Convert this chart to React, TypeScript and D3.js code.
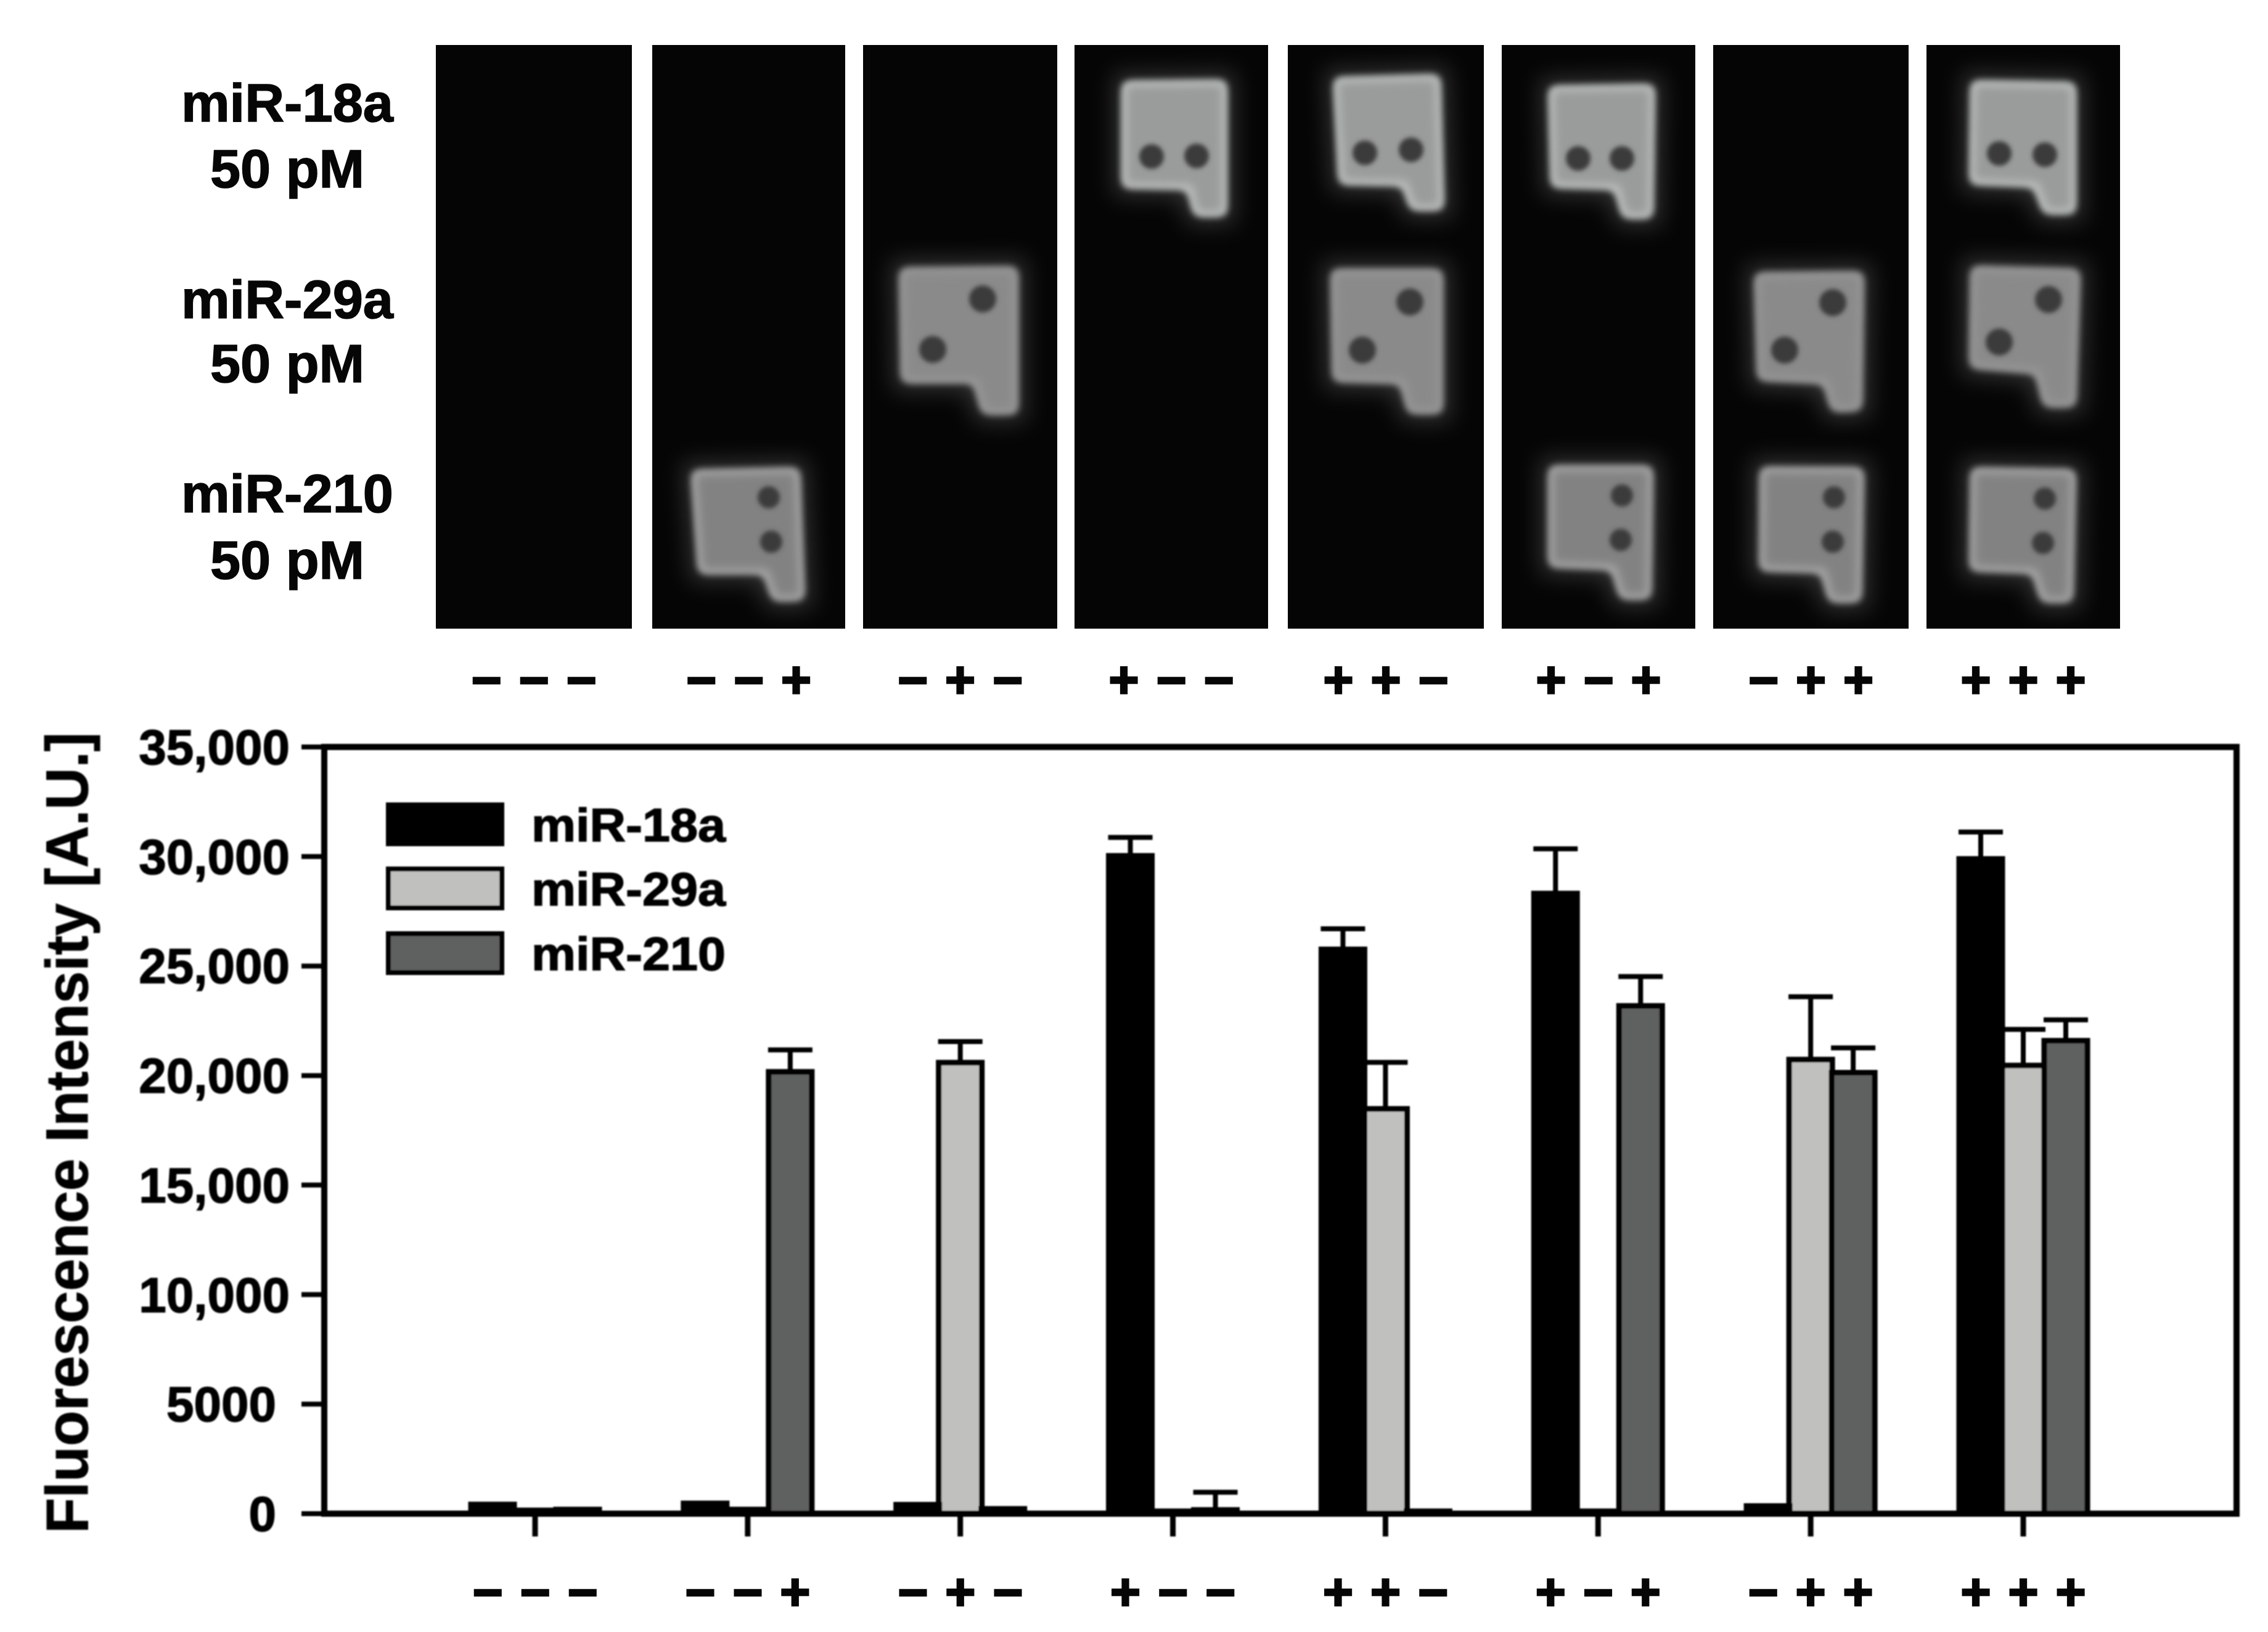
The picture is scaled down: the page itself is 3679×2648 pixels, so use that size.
import React from "react";
import * as d3 from "d3";

// ---------- data ----------
const groups = ["---", "--+", "-+-", "+--", "++-", "+-+", "-++", "+++"];
const seriesNames = ["miR-29a", "miR-210", "miR-18a"]; // draw order
const legendOrder = ["miR-18a", "miR-29a", "miR-210"];
const miR18a = [420, 470, 410, 30030, 25760, 28310, 350, 29890];
const miR18aErr = [null, null, null, 30870, 26700, 30350, null, 31120];
const miR29a = [150, 190, 20590, 110, 18480, 110, 20730, 20460];
const miR29aErr = [null, null, 21550, null, 20600, null, 23600, 22110];
const miR210 = [190, 20170, 220, 170, 110, 23180, 20130, 21590];
const miR210Err = [null, 21170, null, 980, null, 24520, 21260, 22540];
const yTickValues = [0, 5000, 10000, 15000, 20000, 25000, 30000, 35000];
const yTickLabels = ["0", "5000", "10,000", "15,000", "20,000", "25,000", "30,000", "35,000"];
const imageRows = [
  ["miR-18a", "50 pM"],
  ["miR-29a", "50 pM"],
  ["miR-210", "50 pM"],
];

// ---------- fluorescence image panels ----------
const panelLeft = [707, 1058, 1400, 1743, 2089, 2436, 2779, 3125];
const panelRight = [1025, 1371, 1715, 2057, 2407, 2750, 3096, 3439];
type Blob = { panel: number; row: number; outline: number[][]; dots: number[][] };
const blobs: Blob[] = [
  { panel: 1, row: 2, outline: [[1120, 762], [1298, 758], [1306, 975], [1252, 976], [1238, 932], [1132, 932]], dots: [[1247, 807], [1251, 879]] },
  { panel: 2, row: 1, outline: [[1458, 434], [1652, 432], [1652, 673], [1592, 673], [1578, 622], [1461, 622]], dots: [[1594, 485], [1513, 567]] },
  { panel: 3, row: 0, outline: [[1819, 131], [1991, 129], [1991, 352], [1936, 352], [1925, 308], [1819, 306]], dots: [[1868, 254], [1941, 253]] },
  { panel: 4, row: 0, outline: [[2162, 125], [2337, 120], [2343, 342], [2287, 342], [2274, 302], [2171, 300]], dots: [[2214, 248], [2289, 243]] },
  { panel: 4, row: 1, outline: [[2158, 436], [2341, 436], [2341, 672], [2283, 672], [2270, 623], [2161, 620]], dots: [[2287, 490], [2210, 568]] },
  { panel: 5, row: 0, outline: [[2511, 139], [2685, 136], [2682, 355], [2631, 355], [2618, 308], [2515, 305]], dots: [[2560, 257], [2631, 257]] },
  { panel: 5, row: 2, outline: [[2511, 755], [2682, 755], [2679, 973], [2627, 973], [2613, 925], [2511, 921]], dots: [[2631, 804], [2629, 876]] },
  { panel: 6, row: 1, outline: [[2845, 442], [3024, 440], [3021, 667], [2970, 669], [2957, 623], [2850, 618]], dots: [[2973, 491], [2895, 568]] },
  { panel: 6, row: 2, outline: [[2854, 757], [3024, 758], [3020, 978], [2966, 978], [2953, 930], [2853, 927]], dots: [[2975, 807], [2973, 879]] },
  { panel: 7, row: 0, outline: [[3196, 130], [3368, 133], [3368, 348], [3314, 348], [3298, 304], [3194, 300]], dots: [[3243, 249], [3317, 251]] },
  { panel: 7, row: 1, outline: [[3196, 431], [3375, 436], [3368, 661], [3314, 661], [3301, 607], [3194, 598]], dots: [[3323, 486], [3243, 555]] },
  { panel: 7, row: 2, outline: [[3196, 758], [3368, 761], [3363, 978], [3310, 978], [3296, 931], [3194, 927]], dots: [[3317, 809], [3314, 881]] },
];
const rowEdge = ["#c0c2c2", "#989898", "#a8a8a8"];
const rowFill = ["#9a9b9b", "#8a8a8a", "#828282"];
const rowDot = [20, 22, 18];

// ---------- styles ----------
const FONT = "'Liberation Sans', Arial, sans-serif";
const colors: Record<string, string> = { "miR-18a": "#040404", "miR-29a": "#c0c0be", "miR-210": "#5f6160" };
const values: Record<string, number[]> = { "miR-18a": miR18a, "miR-29a": miR29a, "miR-210": miR210 };
const errs: Record<string, (number | null)[]> = { "miR-18a": miR18aErr, "miR-29a": miR29aErr, "miR-210": miR210Err };

const W = 3679, H = 2648;
const LEFT = 526, RIGHT = 3628, TOP = 1212, BOTTOM = 2456;
const y = d3.scaleLinear().domain([0, 35000]).range([BOTTOM, TOP]);
const x = d3.scalePoint<string>().domain(groups).range([868, 3282]);
const offset = d3.scalePoint<string>().domain(legendOrder).range([-69, 69]);
const symbolOffset = d3.scalePoint<number>().domain([0, 1, 2]).range([-77, 77]);
const BAR_W = 70, SW = 9, CAP = 72;
const line = d3.line().curve(d3.curveLinearClosed);
const panelCenter = (i: number) => (panelLeft[i] + panelRight[i]) / 2;
const glyph = (c: string) => (c === "-" ? "\u2212" : "+");

function SymbolRow({ yPos, centers }: { yPos: number; centers: number[] }) {
  return (
    <g fontFamily={FONT} fontWeight="bold" fontSize={84} textAnchor="middle" fill="#060606" stroke="#060606" strokeWidth={3}>
      {groups.map((g, i) =>
        g.split("").map((c, j) => (
          <text key={`${i}-${j}`} x={centers[i] + (symbolOffset(j) as number)} y={yPos + 29}>
            {glyph(c)}
          </text>
        ))
      )}
    </g>
  );
}

export default function App() {
  return (
    <svg
      width={W}
      height={H}
      viewBox={`0 0 ${W} ${H}`}
      style={{ position: "absolute", left: 0, top: 0, background: "#fff" }}
    >
      <defs>
        <filter id="soft" x="-5%" y="-5%" width="110%" height="110%"><feGaussianBlur stdDeviation="1" /></filter>
        <filter id="halo" x="-40%" y="-40%" width="180%" height="180%"><feGaussianBlur stdDeviation="18" /></filter>
        <filter id="edge" x="-20%" y="-20%" width="140%" height="140%">
          <feGaussianBlur stdDeviation="8" />
          <feColorMatrix type="matrix" values="1 0 0 0 0  0 1 0 0 0  0 0 1 0 0  0 0 0 14 -6.5" />
          <feGaussianBlur stdDeviation="5.5" />
        </filter>
        <filter id="inner" x="-20%" y="-20%" width="140%" height="140%">
          <feMorphology operator="erode" radius="8" />
          <feGaussianBlur stdDeviation="8" />
        </filter>
        <filter id="dot" x="-50%" y="-50%" width="200%" height="200%"><feGaussianBlur stdDeviation="3.5" /></filter>
        {panelLeft.map((l, i) => (
          <clipPath key={i} id={`panel${i}`}>
            <rect x={l} y={73} width={panelRight[i] - l} height={947} />
          </clipPath>
        ))}
      </defs>

      {/* row labels */}
      <g fontFamily={FONT} fontWeight="bold" fontSize={88} textAnchor="middle" fill="#060606" stroke="#060606" strokeWidth={1.5}>
        {imageRows.map((r, i) => {
          const base = [197, 516, 831][i];
          const base2 = [304, 620, 939][i];
          return (
            <g key={r[0]}>
              <text x={466} y={base} textLength={344} lengthAdjust="spacingAndGlyphs">{r[0]}</text>
              <text x={466} y={base2} textLength={250} lengthAdjust="spacingAndGlyphs">{r[1]}</text>
            </g>
          );
        })}
      </g>

      {/* image panels */}
      {panelLeft.map((l, i) => (
        <g key={i} clipPath={`url(#panel${i})`}>
          <rect x={l} y={73} width={panelRight[i] - l} height={947} fill="#050505" />
          {blobs.filter((b) => b.panel === i).map((b) => {
            const d = line(b.outline as [number, number][]) as string;
            return (
              <g key={b.row}>
                <path d={d} fill="#fff" stroke="#fff" strokeWidth={24} opacity={0.18} filter="url(#halo)" />
                <path d={d} fill={rowEdge[b.row]} filter="url(#edge)" />
                <path d={d} fill={rowFill[b.row]} filter="url(#inner)" />
                {b.dots.map((p, k) => (
                  <ellipse key={k} cx={p[0]} cy={p[1]} rx={rowDot[b.row]} ry={rowDot[b.row]} fill="#3b3b3b" filter="url(#dot)" />
                ))}
              </g>
            );
          })}
        </g>
      ))}

      <SymbolRow yPos={1103} centers={panelLeft.map((_, i) => panelCenter(i))} />

      {/* bar chart */}
      <g filter="url(#soft)">
        {/* bars & error bars */}
        {seriesNames.map((s) =>
          groups.map((g, i) => {
            const cx = (x(g) as number) + (offset(s) as number);
            const v = values[s][i];
            const e = errs[s][i];
            return (
              <g key={s + g}>
                {e !== null && (
                  <g stroke="#060606" strokeWidth={8}>
                    <line x1={cx} x2={cx} y1={y(v)} y2={y(e)} />
                    <line x1={cx - CAP / 2} x2={cx + CAP / 2} y1={y(e)} y2={y(e)} />
                  </g>
                )}
                <rect
                  x={cx - BAR_W / 2}
                  y={y(v)}
                  width={BAR_W}
                  height={y(0) - y(v)}
                  fill={colors[s]}
                  stroke="#040404"
                  strokeWidth={SW}
                />
              </g>
            );
          })
        )}

        {/* frame and ticks */}
        <rect x={LEFT} y={TOP} width={RIGHT - LEFT} height={BOTTOM - TOP} fill="none" stroke="#050505" strokeWidth={10} />
        {yTickValues.map((v) => (
          <line key={v} x1={489} x2={LEFT} y1={y(v)} y2={y(v)} stroke="#050505" strokeWidth={8} />
        ))}
        {groups.map((g) => (
          <line key={g} x1={x(g)} x2={x(g)} y1={BOTTOM} y2={2493} stroke="#050505" strokeWidth={9} />
        ))}

        {/* y tick labels */}
        <g fontFamily={FONT} fontWeight="bold" fontSize={80} fill="#060606" stroke="#060606" strokeWidth={1.5} textAnchor="end">
          {yTickValues.map((v, i) => (
            <text key={v} x={v < 10000 ? 448 : 470} y={y(v) + 28}>
              {yTickLabels[i]}
            </text>
          ))}
        </g>

        {/* y title */}
        <text
          transform="translate(142,2488) rotate(-90)"
          fontFamily={FONT}
          fontWeight="bold"
          fontSize={97}
          fill="#060606"
          stroke="#060606"
          strokeWidth={1}
          textLength={1300}
          lengthAdjust="spacingAndGlyphs"
        >
          Fluorescence Intensity [A.U.]
        </text>

        {/* legend */}
        {legendOrder.map((s, i) => (
          <g key={s}>
            <rect
              x={630}
              y={[1306, 1410, 1515][i]}
              width={184}
              height={63}
              fill={colors[s]}
              stroke="#040404"
              strokeWidth={8}
            />
            <text
              x={862}
              y={[1365, 1469, 1574][i]}
              fontFamily={FONT}
              fontWeight="bold"
              fontSize={76}
              fill="#060606"
              stroke="#060606"
              strokeWidth={1.5}
              textLength={315}
              lengthAdjust="spacingAndGlyphs"
            >
              {s}
            </text>
          </g>
        ))}
      </g>

      <SymbolRow yPos={2583} centers={groups.map((g) => x(g) as number)} />
    </svg>
  );
}
